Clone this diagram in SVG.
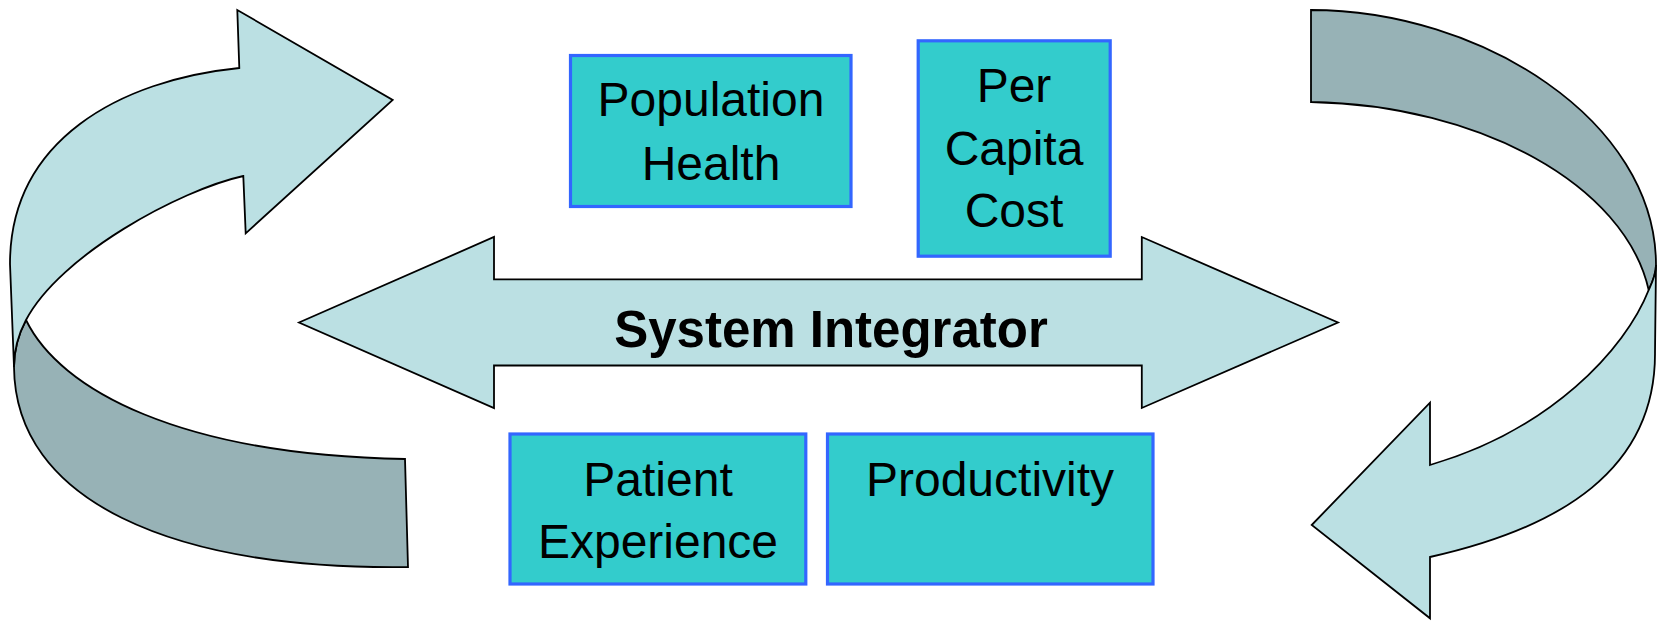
<svg xmlns="http://www.w3.org/2000/svg" width="1657" height="621" viewBox="0 0 1657 621">
<style>
.light{fill:#BBE0E3;stroke:#000;stroke-width:1.8;stroke-linejoin:miter}
.dark{fill:#97B2B6;stroke:#000;stroke-width:1.8;stroke-linejoin:miter}
.box{fill:#33CCCC;stroke:#3366FF;stroke-width:3.2}
.lbl{font-family:"Liberation Sans",Arial,sans-serif;font-size:48px;fill:#000;text-anchor:middle}
.main{font-family:"Liberation Sans",Arial,sans-serif;font-size:51px;font-weight:bold;fill:#000;text-anchor:middle}
</style>
<rect width="1657" height="621" fill="#fff"/>
<g id="connectors">
  <g id="left-cycle-arrow">
    <path class="dark" d="M14,367 C15,500 170,570 408,567 L405,459 C180,455 60,390 26,320 C18,335 14,352 14,367 Z"/>
    <path class="light" d="M10,264 C10,140 120,80 239.3,68 L237.3,10 L392.7,100 L245.7,233.3 L243.3,176 C180,190 60,255 26,320 C18,335 14,352 14,367 Z"/>
  </g>
  <g id="right-cycle-arrow">
    <path class="dark" d="M1311,10 C1480,10 1656,120 1656,265 C1656,275 1652,283 1648.7,290 C1625,185 1480,105 1311,102 Z"/>
    <path class="light" d="M1648.7,290 C1625,350 1550,430 1430,465 L1430,402.7 L1311.7,525 L1430,618.3 L1430,557 C1560,528 1656,470 1655,352 L1656,265 C1656,275 1652,283 1648.7,290 Z"/>
  </g>
  <g id="system-integrator">
    <path class="light" d="M299,322.5 L494,237 L494,279.3 L1141.8,279.3 L1141.8,237 L1338,322.5 L1141.8,408 L1141.8,365.5 L494,365.5 L494,408 Z"/>
    <text class="main" x="831" y="347">System Integrator</text>
  </g>
</g>
<g id="population-health">
  <rect class="box" x="570.5" y="55.5" width="280.5" height="151"/>
  <text class="lbl" x="711" y="116">Population</text>
  <text class="lbl" x="711" y="180">Health</text>
</g>
<g id="per-capita-cost">
  <rect class="box" x="918.2" y="40.8" width="192" height="215.4"/>
  <text class="lbl" x="1014" y="101.7">Per</text>
  <text class="lbl" x="1014" y="165">Capita</text>
  <text class="lbl" x="1014" y="226.7">Cost</text>
</g>
<g id="patient-experience">
  <rect class="box" x="510" y="434" width="295.8" height="150"/>
  <text class="lbl" x="658" y="496">Patient</text>
  <text class="lbl" x="658" y="558.3">Experience</text>
</g>
<g id="productivity">
  <rect class="box" x="827.5" y="434" width="325.5" height="150"/>
  <text class="lbl" x="990" y="496">Productivity</text>
</g>
</svg>
